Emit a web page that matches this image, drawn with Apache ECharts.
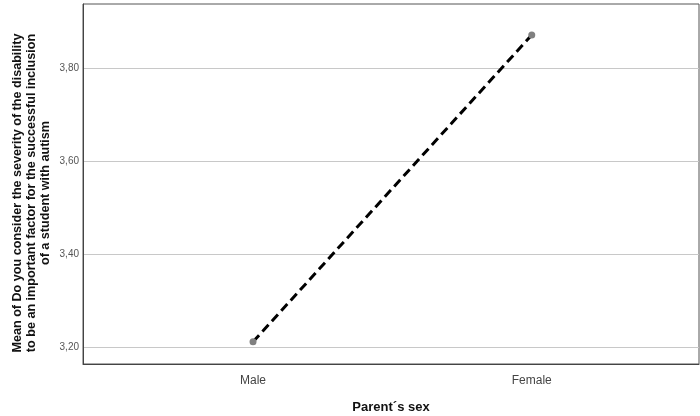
<!DOCTYPE html>
<html>
<head>
<meta charset="utf-8">
<script src="https://cdn.jsdelivr.net/npm/echarts@6/dist/echarts.min.js"></script>
<style>html,body{margin:0;padding:0;background:#fff}#c{width:700px;height:416px}</style>
</head>
<body>
<div id="c"></div>
<script>
var categories = ['Male', 'Female'];
var means = [3.211, 3.871];
var yTicks = [3.2, 3.4, 3.6, 3.8];
var yTitle = 'Mean of Do you consider the severity of the disability\nto be an important factor for the successful inclusion\nof a student with autism';
var xTitle = 'Parent\u00b4s sex';

var seriesData = categories.map(function (c, i) { return [i, means[i]]; });
var catIdx = categories.map(function (c, i) { return i; });

var chart = echarts.init(document.getElementById('c'), null, { renderer: 'canvas' });
chart.setOption({
  animation: false,
  backgroundColor: '#ffffff',
  textStyle: { fontFamily: 'Liberation Sans, Arial, sans-serif' },
  grid: { left: 83, right: 1, top: 4, bottom: 52, outerBoundsMode: 'none', containLabel: false, show: true, borderColor: '#555555', borderWidth: 1, backgroundColor: 'transparent' },
  xAxis: {
    type: 'value', min: -0.61, max: 1.6,
    name: xTitle, nameLocation: 'middle', nameGap: 37,
    nameTextStyle: { fontSize: 13, fontWeight: 'bold', color: '#111', fontFamily: 'Liberation Sans, Arial, sans-serif' },
    axisLine: { show: true, onZero: false, lineStyle: { color: '#444', width: 1 } },
    axisTick: { show: false, customValues: catIdx },
    splitLine: { show: false },
    axisLabel: {
      customValues: catIdx, margin: 11, fontSize: 12, color: '#444',
      formatter: function (v) { return categories[Math.round(v)] || ''; }
    }
  },
  yAxis: {
    type: 'value', min: 3.1634, max: 3.9376,
    name: yTitle, nameLocation: 'middle', nameGap: 30, nameRotate: 90, nameMoveOverlap: false,
    nameTextStyle: { fontSize: 12.6, fontWeight: 'bold', color: '#111', lineHeight: 14, align: 'center', padding: [0, 18, 0, 0], fontFamily: 'Liberation Sans, Arial, sans-serif' },
    axisLine: { show: true, onZero: false, lineStyle: { color: '#444', width: 1 } },
    axisTick: { show: false, customValues: yTicks },
    splitLine: { show: true, lineStyle: { color: '#c8c8c8', width: 1 } },
    axisLabel: {
      customValues: yTicks, margin: 4, fontSize: 10, color: '#555',
      formatter: function (v) { return v.toFixed(2).replace('.', ','); }
    }
  },
  series: [{
    type: 'line',
    data: seriesData,
    symbol: 'circle', symbolSize: 7,
    itemStyle: { color: '#808080' },
    lineStyle: { color: '#000', width: 3, type: [9, 5] },
    z: 3
  }]
});
</script>
</body>
</html>
